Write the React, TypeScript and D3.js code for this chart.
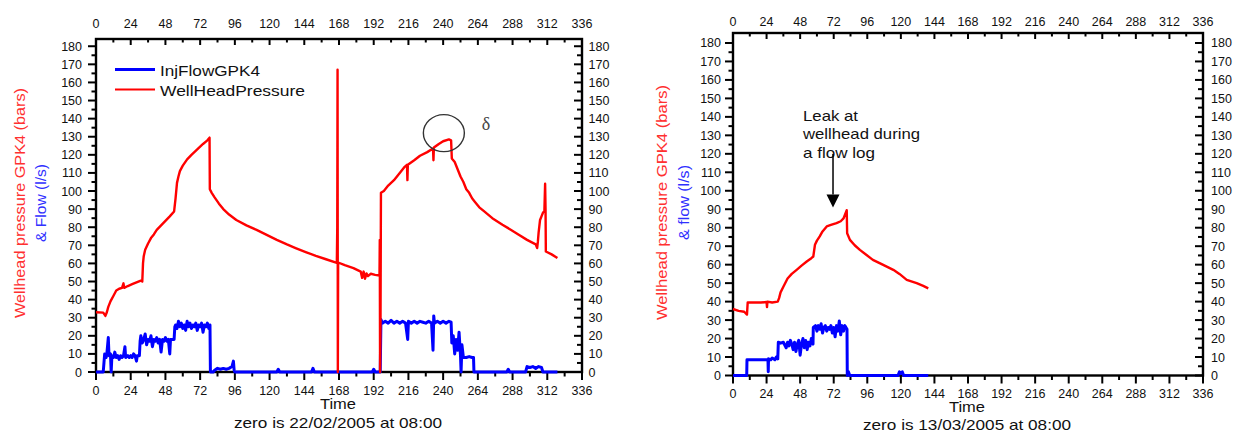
import React from 'react';
import * as d3 from 'd3';

type Pt = [number, number];

// Time axis (hours) and value axis ticks
const timeTicks = [0, 24, 48, 72, 96, 120, 144, 168, 192, 216, 240, 264, 288, 312, 336];
const valueTicks = [0, 10, 20, 30, 40, 50, 60, 70, 80, 90, 100, 110, 120, 130, 140, 150, 160, 170, 180];

// Stimulation starting 22/02/2005 08:00 — well head pressure (bars)
const pressureFeb: Pt[] = [
  [0, 33], [5, 32.8], [6.5, 31], [7.5, 33], [8.5, 36], [10, 39], [12, 42], [14, 45], [16, 46], [18, 46.5],
  [19, 49], [19.5, 46.5], [22, 47.5], [25, 48.5], [28, 49.5], [31, 50.5], [32, 50], [32.5, 60], [33, 64],
  [34, 67.5], [36, 71], [38, 74], [40, 76], [42, 78.5], [45, 81], [48, 83.5], [51, 86], [54, 88.7], [55, 96],
  [56, 104.5], [57, 108], [58, 111], [60, 114], [63, 117.5], [66, 120], [70, 123], [74, 126], [77, 128],
  [78.5, 129.5], [78.7, 101], [80, 99], [82, 96.5], [85, 93], [88, 90], [92, 87], [97, 84], [104, 81],
  [111, 78.5], [118, 75.8], [125, 73], [132, 70.5], [138, 68.5], [145, 66.3], [152, 64.2], [159, 62.3],
  [166.5, 60.3], [166.8, 80], [167, 167], [167.2, 0], [167.4, 60.5], [172, 59], [178, 57.4], [183, 55.5],
  [184, 52], [185, 55.5], [186, 51.5], [187, 54.5], [188, 53], [190, 54.3], [193, 53.7], [196, 53.3],
  [196.2, 73], [196.4, 0], [196.7, 28], [197, 99], [199, 100], [202, 103], [206, 106], [210, 110],
  [213, 113], [215, 114.5], [215.3, 106], [215.6, 114.5], [220, 117], [224, 119.5], [229, 121.5],
  [233, 123.5], [233.3, 117], [233.6, 124], [237, 126], [240, 127.5], [244, 128.5], [245.5, 128],
  [246, 118], [248, 116], [250, 112], [252, 108], [254, 105], [256, 101], [258, 99], [260, 96], [262, 94],
  [265, 91], [268, 89], [274, 85], [281, 81.4], [287, 78.5], [292, 76], [298, 73], [304, 70.5], [305, 68.5],
  [305.5, 72], [306, 77], [307, 84], [308, 86], [309, 88], [310, 89], [310.5, 104], [310.8, 90], [311, 66.6],
  [315, 65], [319, 63],
];

// Stimulation starting 22/02/2005 08:00 — injection flow (l/s)
const flowFeb: Pt[] = [
  [0, 0], [5, 0], [5.5, 5], [6, 10], [7, 8], [7.5, 10], [8.5, 19], [9, 9], [10, 10], [10.5, 0], [11, 9],
  [12, 8], [13, 11], [14, 8], [15, 9], [16, 7], [17, 9], [18, 8], [19, 9], [20, 14], [20.5, 8], [22, 9],
  [23, 8], [24, 9], [25, 8], [26, 10], [27, 9], [28, 6], [28.5, 9], [30, 9], [30.5, 17], [31, 20], [32, 16],
  [33, 18], [34, 21], [35, 15], [36, 18], [37, 17], [38, 20], [39, 14], [40, 18], [41, 17], [42, 19],
  [43, 16], [44, 18], [45, 11], [46, 18], [47, 17], [48, 19], [49, 17], [50, 18], [51, 10], [51.5, 18],
  [53, 18], [54, 18], [54.5, 25], [55, 26], [56, 24], [57, 28], [58, 25], [59, 27], [60, 24], [61, 26],
  [62, 23], [63, 28], [64, 25], [65, 27], [66, 24], [67, 26], [68, 25], [69, 27], [70, 23], [71, 26],
  [72, 25], [73, 27], [74, 22], [75, 26], [76, 25], [77, 27], [78, 24], [78.8, 26], [79.1, 0], [81, 0],
  [82, 1], [84, 2], [86, 1.5], [88, 2], [90, 1.5], [92, 2], [94, 3], [95, 6], [95.5, 1], [96, 0], [125, 0],
  [126, 1.5], [127, 0], [149, 0], [150, 2], [151, 0], [191, 0], [192, 1.5], [193, 0], [196.5, 0], [197, 29],
  [198, 27], [200, 28], [202, 27], [204, 28.5], [206, 27], [208, 28], [210, 27], [212, 28], [214, 27],
  [215.5, 18], [216, 28], [218, 27], [220, 28], [222, 27], [224, 28], [226, 27.5], [228, 27], [230, 28],
  [232, 27], [233, 12], [233.5, 31], [234, 27], [236, 28], [238, 27], [240, 28], [242, 27], [244, 28],
  [245.5, 27.5], [246, 16], [247, 20], [248, 10], [249, 18], [250, 12], [251, 22], [252, 9], [252.4, 0],
  [253, 15], [254, 8], [256, 8], [258, 8.5], [260, 8], [261, 8], [261.3, 0], [284, 0], [285, 1.5], [286, 0],
  [297, 0], [298, 3], [300, 2.5], [302, 3], [304, 2], [306, 3], [308, 2.5], [309, 0], [319, 0],
];

// Stimulation starting 13/03/2005 08:00 — well head pressure (bars)
const pressureMar: Pt[] = [
  [0, 36], [4, 35], [8, 34.5], [10, 33], [10.5, 39.5], [15, 39.5], [20, 39.5], [24, 39.8], [24.3, 37],
  [24.6, 40], [28, 39.5], [32, 40], [33, 42], [34, 45], [36, 48], [39, 52.5], [42, 55], [45.5, 57.2],
  [49, 59.5], [52.7, 61.7], [56, 63.5], [57.4, 64.4], [58.6, 70.8], [60, 73], [62, 75.3], [64, 78],
  [67, 80.7], [70, 81.5], [74, 82.5], [77, 83.5], [79, 85], [81.3, 89.5], [81.6, 77], [83.6, 73.4],
  [87, 70.5], [90.7, 68], [95, 65.5], [100, 62.6], [107, 60], [114.6, 57.2], [119, 55], [124.2, 51.8],
  [131.3, 50], [136, 48.5], [139.6, 47.2],
];

// Stimulation starting 13/03/2005 08:00 — injection flow (l/s)
const flowMar: Pt[] = [
  [0, 0], [9.8, 0], [10, 8.5], [25, 8.5], [25.2, 2], [25.4, 9], [27, 8.5], [28, 9.5], [30, 8.5], [31, 10],
  [32, 9], [32.4, 18], [34, 17.5], [36, 18], [38, 15], [39, 18], [40, 16], [41, 19], [42, 17], [43, 14],
  [44, 18], [45, 13], [46, 17], [47, 19], [48, 11], [49, 17], [50, 20], [51, 15], [52, 19], [53, 14],
  [54, 18], [55, 16], [56, 20], [57.2, 17], [57.4, 26], [59, 27], [60, 24], [61, 27], [62, 25], [63, 28],
  [64, 23], [65, 26], [66, 27], [67, 24], [68, 26], [69, 25], [70, 27], [71, 23], [72, 26], [73, 21],
  [74, 27], [75, 24], [76, 29.5], [77, 22], [78, 27], [79, 24], [80, 27], [81.5, 25], [81.7, 0], [82.5, 2],
  [83.5, 0], [118, 0], [119, 2], [120, 1], [121, 2], [122, 0], [139.6, 0],
];

const seriesNames = ['InjFlowGPK4', 'WellHeadPressure'];

const FONT = "'Liberation Sans', Arial, Helvetica, sans-serif";
const RED = '#ff0000';
const BLUE = '#0000ff';

type Frame = {
  left: number;
  right: number;
  top: number;
  bottom: number;
  yMax: number;
  topLabelY: number;
  bottomLabelY: number;
  leftLabelGap: number;
  rightLabelGap: number;
};

type PanelProps = {
  frame: Frame;
  pressure: Pt[];
  flow: Pt[];
  yTitleRed: string;
  yTitleBlue: string;
  redX: number;
  blueX: number;
  redLen: number;
  blueLen: number;
  titleY: number;
  timeY: number;
  zeroY: number;
  zeroText: string;
  children?: React.ReactNode;
};

function Panel(p: PanelProps) {
  const f = p.frame;
  const x = d3.scaleLinear().domain([0, 336]).range([f.left, f.right]);
  const y = d3.scaleLinear().domain([0, f.yMax]).range([f.bottom, f.top]);
  const line = d3.line<Pt>().x((d) => x(d[0])).y((d) => y(d[1]));
  const minorX = timeTicks.slice(0, -1).map((t) => t + 12);
  const minorY = valueTicks.slice(0, -1).map((v) => v + 5);
  const cx = (f.left + f.right) / 2 - 1;

  return (
    <g>
      {/* frame */}
      <rect x={f.left} y={f.top} width={f.right - f.left} height={f.bottom - f.top}
        fill="none" stroke="#000" strokeWidth={2.4} />

      {/* bottom axis: ticks outward */}
      {timeTicks.map((t) => (
        <line key={'bM' + t} x1={x(t)} x2={x(t)} y1={f.bottom} y2={f.bottom + 8} stroke="#000" strokeWidth={2} />
      ))}
      {minorX.map((t) => (
        <line key={'bm' + t} x1={x(t)} x2={x(t)} y1={f.bottom} y2={f.bottom + 4.5} stroke="#000" strokeWidth={2} />
      ))}
      {timeTicks.map((t) => (
        <text key={'bl' + t} x={x(t)} y={f.bottomLabelY} textAnchor="middle" fontSize={12.5} fontFamily={FONT} fill="#111">{t}</text>
      ))}

      {/* top axis: ticks inward */}
      {timeTicks.map((t) => (
        <line key={'tM' + t} x1={x(t)} x2={x(t)} y1={f.top} y2={f.top + 6} stroke="#000" strokeWidth={2} />
      ))}
      {minorX.map((t) => (
        <line key={'tm' + t} x1={x(t)} x2={x(t)} y1={f.top} y2={f.top + 3.5} stroke="#000" strokeWidth={2} />
      ))}
      {timeTicks.map((t) => (
        <text key={'tl' + t} x={x(t)} y={f.topLabelY} textAnchor="middle" fontSize={12.5} fontFamily={FONT} fill="#111">{t}</text>
      ))}

      {/* left axis: ticks outward */}
      {valueTicks.map((v) => (
        <line key={'lM' + v} x1={f.left - 8} x2={f.left} y1={y(v)} y2={y(v)} stroke="#000" strokeWidth={2} />
      ))}
      {minorY.map((v) => (
        <line key={'lm' + v} x1={f.left - 4.5} x2={f.left} y1={y(v)} y2={y(v)} stroke="#000" strokeWidth={2} />
      ))}
      {valueTicks.map((v) => (
        <text key={'ll' + v} x={f.left - f.leftLabelGap} y={y(v)} dy="0.36em" textAnchor="end" fontSize={12.5} fontFamily={FONT} fill="#111">{v}</text>
      ))}

      {/* right axis: ticks inward */}
      {valueTicks.map((v) => (
        <line key={'rM' + v} x1={f.right - 8} x2={f.right} y1={y(v)} y2={y(v)} stroke="#000" strokeWidth={2} />
      ))}
      {minorY.map((v) => (
        <line key={'rm' + v} x1={f.right - 5} x2={f.right} y1={y(v)} y2={y(v)} stroke="#000" strokeWidth={2} />
      ))}
      {valueTicks.map((v) => (
        <text key={'rl' + v} x={f.right + f.rightLabelGap} y={y(v)} dy="0.36em" textAnchor="start" fontSize={12.5} fontFamily={FONT} fill="#111">{v}</text>
      ))}

      {/* axis titles */}
      <text transform={`translate(${p.redX},${p.titleY}) rotate(-90)`} textAnchor="middle" fontSize={15}
        fontFamily={FONT} fill="#ff3030" textLength={p.redLen} lengthAdjust="spacingAndGlyphs">{p.yTitleRed}</text>
      <text transform={`translate(${p.blueX},${p.titleY}) rotate(-90)`} textAnchor="middle" fontSize={15}
        fontFamily={FONT} fill="#3030ff" textLength={p.blueLen} lengthAdjust="spacingAndGlyphs">{p.yTitleBlue}</text>
      <text x={cx} y={p.timeY} textAnchor="middle" fontSize={14} fontFamily={FONT} fill="#111"
        textLength={36} lengthAdjust="spacingAndGlyphs">Time</text>
      <text x={cx} y={p.zeroY} textAnchor="middle" fontSize={14.5} fontFamily={FONT} fill="#111"
        textLength={208} lengthAdjust="spacingAndGlyphs">{p.zeroText}</text>

      {/* series */}
      <path d={line(p.flow) ?? ''} fill="none" stroke={BLUE} strokeWidth={3} strokeLinejoin="round" />
      <path d={line(p.pressure) ?? ''} fill="none" stroke={RED} strokeWidth={2.4} strokeLinejoin="round" />

      {p.children}
    </g>
  );
}

const frameFeb: Frame = {
  left: 96, right: 582, top: 39, bottom: 372, yMax: 184,
  topLabelY: 27.5, bottomLabelY: 394.5, leftLabelGap: 14, rightLabelGap: 6.5,
};
const frameMar: Frame = {
  left: 733, right: 1203, top: 33, bottom: 375.5, yMax: 185.4,
  topLabelY: 25.5, bottomLabelY: 397.5, leftLabelGap: 12, rightLabelGap: 8,
};

export default function App() {
  const xr = d3.scaleLinear().domain([0, 336]).range([frameMar.left, frameMar.right]);
  const yr = d3.scaleLinear().domain([0, frameMar.yMax]).range([frameMar.bottom, frameMar.top]);
  const xl = d3.scaleLinear().domain([0, 336]).range([frameFeb.left, frameFeb.right]);
  const yl = d3.scaleLinear().domain([0, frameFeb.yMax]).range([frameFeb.bottom, frameFeb.top]);
  const arrowX = xr(71.5);

  return (
    <svg width={1240} height={432} viewBox="0 0 1240 432"
      style={{ position: 'absolute', left: 0, top: 0, background: '#fff' }}>
      <rect width={1240} height={432} fill="#fff" />

      <Panel frame={frameFeb} pressure={pressureFeb} flow={flowFeb}
        yTitleRed="Wellhead pressure GPK4 (bars)" yTitleBlue="& Flow (l/s)"
        redX={25} blueX={45.5} redLen={230} blueLen={78} titleY={203}
        timeY={409} zeroY={428} zeroText="zero is 22/02/2005 at 08:00">
        {/* legend */}
        <line x1={115} x2={155} y1={69.5} y2={69.5} stroke={BLUE} strokeWidth={3} />
        <text x={160} y={75.5} fontSize={14.5} fontFamily={FONT} fill="#111" textLength={100} lengthAdjust="spacingAndGlyphs">{seriesNames[0]}</text>
        <line x1={115} x2={155} y1={89.5} y2={89.5} stroke={RED} strokeWidth={2} />
        <text x={160} y={95.5} fontSize={14.5} fontFamily={FONT} fill="#111" textLength={145} lengthAdjust="spacingAndGlyphs">{seriesNames[1]}</text>
        {/* peak marker */}
        <ellipse cx={xl(240.5)} cy={yl(132)} rx={20.5} ry={18.5} fill="none" stroke="#333" strokeWidth={1.4} />
        <text x={486} y={130} textAnchor="middle" fontSize={18} fontFamily="'Liberation Serif', 'DejaVu Serif', serif" fill="#444">δ</text>
      </Panel>

      <Panel frame={frameMar} pressure={pressureMar} flow={flowMar}
        yTitleRed="Wellhead pressure GPK4 (bars)" yTitleBlue="& flow (l/s)"
        redX={667} blueX={689} redLen={235} blueLen={75} titleY={202.5}
        timeY={412} zeroY={430} zeroText="zero is 13/03/2005 at 08:00">
        <text x={803} y={120.5} fontSize={15} fontFamily={FONT} fill="#111" textLength={55} lengthAdjust="spacingAndGlyphs">Leak at</text>
        <text x={803} y={139} fontSize={15} fontFamily={FONT} fill="#111" textLength={117} lengthAdjust="spacingAndGlyphs">wellhead during</text>
        <text x={803} y={157.5} fontSize={15} fontFamily={FONT} fill="#111" textLength={72} lengthAdjust="spacingAndGlyphs">a flow log</text>
        <line x1={arrowX} x2={arrowX} y1={154} y2={yr(98)} stroke="#000" strokeWidth={1.5} />
        <path d={`M${arrowX - 6.5},${yr(98)} L${arrowX + 6.5},${yr(98)} L${arrowX},${yr(91)} Z`} fill="#000" />
      </Panel>
    </svg>
  );
}
